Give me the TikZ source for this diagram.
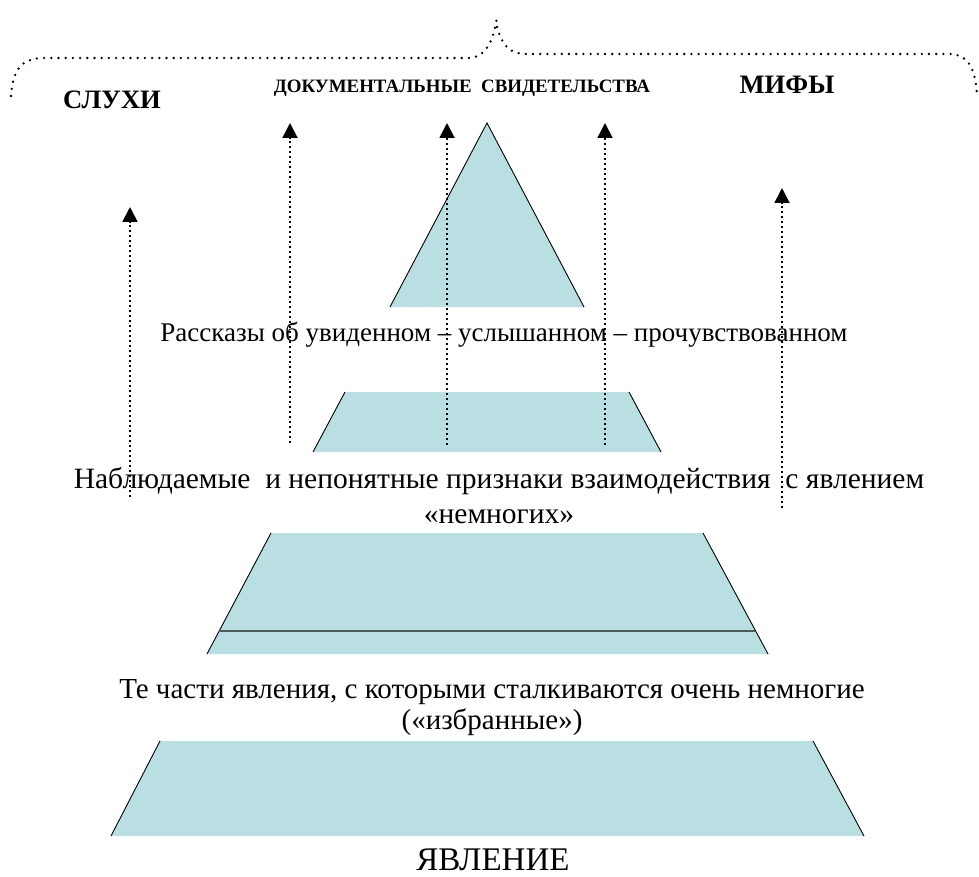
\documentclass[tikz,border=0pt]{standalone}
\usepackage{fontspec}
\setmainfont{Liberation Serif}
\usetikzlibrary{arrows.meta}

\definecolor{piramida}{HTML}{BADFE3}
\definecolor{cherta}{HTML}{4B5C5D}

\tikzset{
  sloj/.style={fill=piramida, draw=none},
  bok/.style={draw=black, line width=0.9pt},
  strelka/.style={line width=1.9pt, dash pattern=on 1.9pt off 3.1pt,
    -{Triangle[width=15pt, length=15pt]}},
  skobka/.style={line width=2.6pt, line cap=round, dash pattern=on 0pt off 7.2pt},
  zagolovok/.style={font=\bfseries, inner sep=0pt},
  podpis/.style={inner sep=0pt, align=center}
}

\begin{document}
\begin{tikzpicture}[x=1pt, y=-1pt]

  % Рамка рисунка
  \useasboundingbox (0, 0) rectangle (979, 877);

  % Фигурная скобка (пунктир)
  \draw[skobka] (11, 96) .. controls (13, 66) and (24, 58) .. (45, 58)
    -- (468, 58) .. controls (486, 58) and (494, 40) .. (497, 16);
  \draw[skobka] (497, 27) .. controls (502, 44) and (508, 54) .. (527, 54)
    -- (950, 54) .. controls (966, 54) and (976, 66) .. (977, 97);

  % Заголовки над скобкой
  \node[zagolovok, font=\fontsize{26.6}{28}\selectfont\bfseries] (sluhi) at (112, 100) {СЛУХИ};
  \node[zagolovok, font=\fontsize{18.9}{20}\selectfont\bfseries] (dokumenty) at (462, 88)
    {ДОКУМЕНТАЛЬНЫЕ \ СВИДЕТЕЛЬСТВА};
  \node[zagolovok, font=\fontsize{26.6}{28}\selectfont\bfseries] (mify) at (787, 85) {МИФЫ};

  % Вершина пирамиды
  \fill[sloj] (487, 123) -- (584, 307) -- (390, 307) -- cycle;
  \draw[bok] (390, 307) -- (487, 123) -- (584, 307);
  \node[podpis, font=\fontsize{27}{30}\selectfont] (rasskazy) at (504, 335)
    {Рассказы об увиденном – услышанном – прочувствованном};

  % Второй слой
  \fill[sloj] (345, 392) -- (629, 392) -- (661, 452) -- (313, 452) -- cycle;
  \draw[bok] (345, 392) -- (313, 452);
  \draw[bok] (629, 392) -- (661, 452);
  \node[podpis, font=\fontsize{29.5}{35}\selectfont] (priznaki) at (499, 496)
    {Наблюдаемые \ и непонятные признаки взаимодействия \ с явлением\\«немногих»};

  % Третий слой
  \fill[sloj] (271, 533) -- (703, 533) -- (768, 654) -- (207, 654) -- cycle;
  \draw[bok] (271, 533) -- (207, 654);
  \draw[bok] (703, 533) -- (768, 654);
  \draw[cherta, line width=2.4pt] (219, 631) -- (755, 631);
  \node[podpis, font=\fontsize{29}{31}\selectfont] (izbrannye) at (492, 708)
    {Те части явления, с которыми сталкиваются очень немногие\\(«избранные»)};

  % Основание
  \fill[sloj] (160, 741) -- (813, 741) -- (864, 836) -- (111, 836) -- cycle;
  \draw[bok] (160, 741) -- (111, 836);
  \draw[bok] (813, 741) -- (864, 836);
  \node[podpis, anchor=base, font=\fontsize{33}{35}\selectfont] (yavlenie) at (493, 870) {ЯВЛЕНИЕ};

  % Стрелки (пунктир)
  \coordinate (s1a) at (130, 497); \coordinate (s1b) at (130, 207);
  \coordinate (s2a) at (290, 443); \coordinate (s2b) at (290, 123);
  \coordinate (s3a) at (447, 445); \coordinate (s3b) at (447, 123);
  \coordinate (s4a) at (605, 445); \coordinate (s4b) at (605, 123);
  \coordinate (s5a) at (782, 508); \coordinate (s5b) at (782, 188);
  \foreach \n in {1, ..., 5} {
    \draw[strelka] (s\n a) -- (s\n b);
  }

\end{tikzpicture}
\end{document}
